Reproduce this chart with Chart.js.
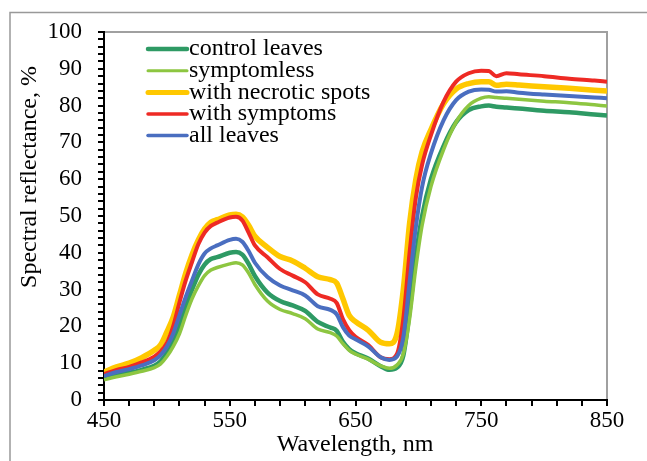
<!DOCTYPE html>
<html>
<head>
<meta charset="utf-8">
<script src="https://cdn.jsdelivr.net/npm/chart.js@4.4.1/dist/chart.umd.min.js"></script>
<style>
html,body{margin:0;padding:0;background:#fff;}
#c{position:absolute;left:0;top:0;}
</style>
</head>
<body>
<canvas id="c" width="647" height="461"></canvas>
<script>
const wavelengths = [450,460,470,480,490,495,500,505,510,515,520,525,530,535,540,550,555,560,565,570,580,590,600,610,620,630,635,640,645,650,660,670,677,683,688,693,698,703,710,720,730,740,750,756,762,770,780,800,820,840,850];

const controlLeaves = [6.0,6.8,7.4,8.2,9.3,10.5,12.8,16.0,20.5,25.5,30.0,34.0,36.8,38.3,38.8,40.0,40.2,39.5,37.0,33.7,29.2,26.9,25.7,24.2,21.2,19.7,18.8,15.8,13.8,12.7,11.3,9.2,8.2,8.8,12.0,24.0,39.0,50.0,60.0,69.0,75.5,78.8,79.8,80.0,79.7,79.5,79.2,78.6,78.2,77.6,77.3];
const symptomless = [5.5,6.3,7.0,7.8,8.8,9.8,11.8,14.5,18.0,23.0,27.5,31.0,33.8,35.3,36.0,37.0,37.3,36.7,34.5,31.4,26.9,24.6,23.5,22.1,19.3,18.3,17.4,15.3,13.5,12.5,11.1,9.3,8.6,9.5,12.5,22.0,36.0,47.5,58.0,68.0,75.5,80.0,82.0,82.4,82.2,82.0,81.7,81.2,80.8,80.2,79.9];
const necroticSpots = [7.6,9.0,10.0,11.5,13.5,15.0,18.5,22.5,28.5,34.5,39.5,43.5,46.5,48.3,49.0,50.3,50.5,49.8,47.5,44.5,41.5,39.0,37.8,35.8,33.5,32.7,31.8,27.5,23.0,21.3,19.0,15.7,15.3,18.0,30.0,48.0,60.0,67.5,73.5,80.5,84.5,86.0,86.5,86.5,85.5,85.8,85.6,85.1,84.7,84.2,84.0];
const withSymptoms = [7.0,8.2,9.0,10.2,11.8,13.2,15.5,20.0,26.5,32.5,37.5,42.3,45.5,47.3,48.2,49.6,49.8,48.8,45.5,42.0,38.8,35.6,33.8,32.0,28.7,27.5,26.4,22.0,19.0,17.2,15.0,11.6,11.1,12.5,22.0,40.0,55.0,64.0,72.0,81.0,86.5,88.8,89.5,89.4,88.0,88.8,88.5,88.0,87.3,86.8,86.5];
const allLeaves = [6.5,7.6,8.4,9.4,10.8,12.2,14.5,18.0,23.0,28.0,32.5,36.8,39.8,41.2,42.0,43.5,43.8,43.0,40.5,37.3,33.4,31.1,29.8,28.4,25.5,24.5,23.3,19.8,17.5,16.5,14.6,11.6,10.9,11.8,17.0,32.0,47.0,58.0,67.0,76.0,81.5,83.8,84.4,84.3,83.8,83.9,83.5,83.0,82.6,82.2,82.0];

const seriesNames = ["control leaves","symptomless","with necrotic spots","with symptoms","all leaves"];
const xTickLabels = [450,550,650,750,850];
const yTickLabels = [0,10,20,30,40,50,60,70,80,90,100];

const colors = ["#2E9A64","#8DC641","#FFC800","#EE2A24","#4A6EC0"];
const widths = [4.5,3.5,5.5,4,4];
const legendWidths = [4.5,3,5,3.5,3.5];
const seriesValues = [controlLeaves, symptomless, necroticSpots, withSymptoms, allLeaves];

const FONT = "'Liberation Serif','Times New Roman',serif";

const datasets = seriesValues.map((vals, i) => ({
  label: seriesNames[i],
  data: vals.map((v, k) => ({x: wavelengths[k], y: v})),
  borderColor: colors[i],
  backgroundColor: colors[i],
  borderWidth: widths[i],
  pointRadius: 0,
  fill: false,
  cubicInterpolationMode: 'monotone',
  order: 4 - i
}));

const framePlugin = {
  id: 'frame',
  beforeDraw(chart) {
    const ctx = chart.ctx;
    ctx.save();
    ctx.strokeStyle = '#999';
    ctx.lineWidth = 1.5;
    ctx.beginPath();
    ctx.moveTo(10, 461);
    ctx.lineTo(10, 12.5);
    ctx.lineTo(647, 12.5);
    ctx.stroke();
    const a = chart.chartArea;
    ctx.strokeStyle = '#A0A0A0';
    ctx.lineWidth = 2;
    ctx.beginPath();
    ctx.moveTo(a.left, a.top);
    ctx.lineTo(a.right, a.top);
    ctx.lineTo(a.right, a.bottom);
    ctx.stroke();
    ctx.restore();
  },
  afterDraw(chart) {
    const ctx = chart.ctx;
    ctx.save();
    ctx.fillStyle = '#000';
    ctx.font = "24px " + FONT;
    ctx.textAlign = 'center';
    ctx.textBaseline = 'middle';
    ctx.translate(30, 177);
    ctx.rotate(-Math.PI / 2);
    ctx.fillText("Spectral reflectance, %", 0, 0);
    ctx.restore();
    ctx.save();
    ctx.fillStyle = '#000';
    ctx.font = "24px " + FONT;
    ctx.textAlign = 'center';
    ctx.textBaseline = 'middle';
    ctx.fillText("Wavelength, nm", 355, 445);
    const rows = [49, 70.7, 92.4, 114, 135.5];
    ctx.font = "24px " + FONT;
    ctx.textAlign = 'left';
    for (let i = 0; i < seriesNames.length; i++) {
      ctx.strokeStyle = colors[i];
      ctx.lineWidth = legendWidths[i];
      ctx.lineCap = 'round';
      ctx.beginPath();
      ctx.moveTo(148, rows[i]);
      ctx.lineTo(187, rows[i]);
      ctx.stroke();
      ctx.fillText(seriesNames[i], 189, rows[i]);
    }
    ctx.restore();
  }
};

new Chart(document.getElementById('c'), {
  type: 'line',
  data: { datasets },
  plugins: [framePlugin],
  options: {
    responsive: false,
    animation: false,
    devicePixelRatio: 1,
    layout: { padding: { left: 0, top: 32, right: 40, bottom: 0 } },
    plugins: { legend: { display: false }, tooltip: { enabled: false } },
    scales: {
      x: {
        type: 'linear',
        min: 450, max: 850,
        afterFit: s => { s.height = 61; },
        afterBuildTicks: s => { const t = []; for (let v = 450; v <= 850; v += 20) t.push({value: v}); s.ticks = t; },
        ticks: {
          autoSkip: false, maxRotation: 0, padding: 1,
          color: '#000',
          font: { family: FONT, size: 23 },
          callback: v => xTickLabels.includes(v) ? String(v) : ''
        },
        grid: { drawOnChartArea: false, tickLength: 6, color: '#000', lineWidth: 2 },
        border: { display: true, color: '#000', width: 2 }
      },
      y: {
        min: 0, max: 100,
        afterFit: s => { s.width = 104; },
        afterBuildTicks: s => { const t = []; for (let v = 0; v <= 100; v += 2) t.push({value: v}); s.ticks = t; },
        ticks: {
          autoSkip: false, padding: 16,
          color: '#000',
          font: { family: FONT, size: 23 },
          callback: v => yTickLabels.includes(v) ? String(v) : ''
        },
        grid: { drawOnChartArea: false, tickLength: 6, color: '#000', lineWidth: 2 },
        border: { display: true, color: '#000', width: 2 }
      }
    }
  }
});
</script>
</body>
</html>
